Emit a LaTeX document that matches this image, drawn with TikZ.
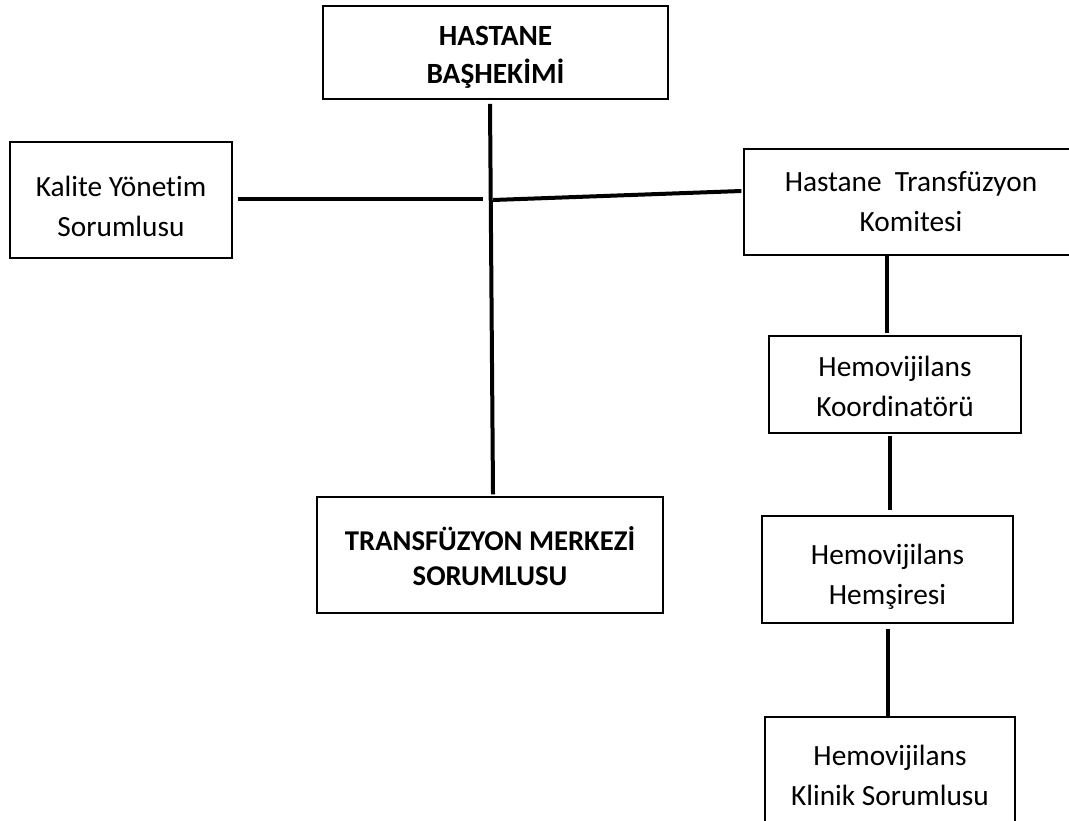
\documentclass[tikz,border=0pt]{standalone}
\usepackage{fontspec}
\setmainfont{Carlito}[Ligatures=NoCommon]
\usepackage{tikz}
\usetikzlibrary{positioning,calc}

\tikzset{
  box/.style={draw, rectangle, line width=0.9pt, align=center, inner sep=0pt,
    text height=52pt, text depth=0pt,
    font=\fontsize{22}{30}\selectfont},
  bossbox/.style={box, line width=1.4pt, font=\fontsize{22}{28.5}\selectfont\bfseries},
  conn/.style={line width=3pt}
}

\begin{document}
\begin{tikzpicture}[x=0.75pt, y=-0.75pt]
    \useasboundingbox (0,0) rectangle (1069,820);
    % Nodes
    \node [bossbox, text height=46.5pt, minimum width=258.75pt, minimum height=69.75pt] (boss) at (495.5,52.5) {HASTANE\\BAŞHEKİMİ};
    \node [box, text height=55.2pt, minimum width=166.5pt, minimum height=87pt] (kalite) at (121,200) {Kalite Yönetim\\Sorumlusu};
    \node [box, text height=44pt, minimum width=250.5pt, minimum height=79.5pt] (komite) at (911,202) {Hastane\ \ Transfüzyon\\Komitesi};
    \node [bossbox, line width=0.9pt, font=\fontsize{21.5}{26.5}\selectfont\bfseries, text height=45.9pt,
      minimum width=259.5pt, minimum height=87pt] (merkez) at (490,555) {TRANSFÜZYON MERKEZİ\\SORUMLUSU};
    \node [box, text height=47.8pt, minimum width=189pt, minimum height=72.75pt] (koord) at (895,384.5) {Hemovijilans\\Koordinatörü};
    \node [box, text height=52.2pt, minimum width=188.25pt, minimum height=80.25pt] (hemsire) at (887.5,569.5) {Hemovijilans\\Hemşiresi};
    \node [box, minimum width=187.5pt, minimum height=80.25pt] (klinik) at (890,770.5) {Hemovijilans\\Klinik Sorumlusu};
    \coordinate (junL) at (483,199);
    \coordinate (junR) at (493,200);
    % Lines
    \draw [conn] ($(boss.south)+(-5.5,4)$) -- ($(merkez.north)+(3,-2)$);
    \draw [conn] ($(kalite.east)+(5,-1)$) -- (junL);
    \draw [conn] (junR) -- ($(komite.west)+(-2,-11)$);
    \draw [conn] ($(komite.south)+(-24,0)$) -- ($(koord.north)+(-8,-2)$);
    \draw [conn] ($(koord.south)+(-5,2)$) -- ($(hemsire.north)+(2.5,-5)$);
    \draw [conn] ($(hemsire.south)+(0.5,5)$) -- ($(klinik.north)+(-2,1)$);
  \end{tikzpicture}
\end{document}
